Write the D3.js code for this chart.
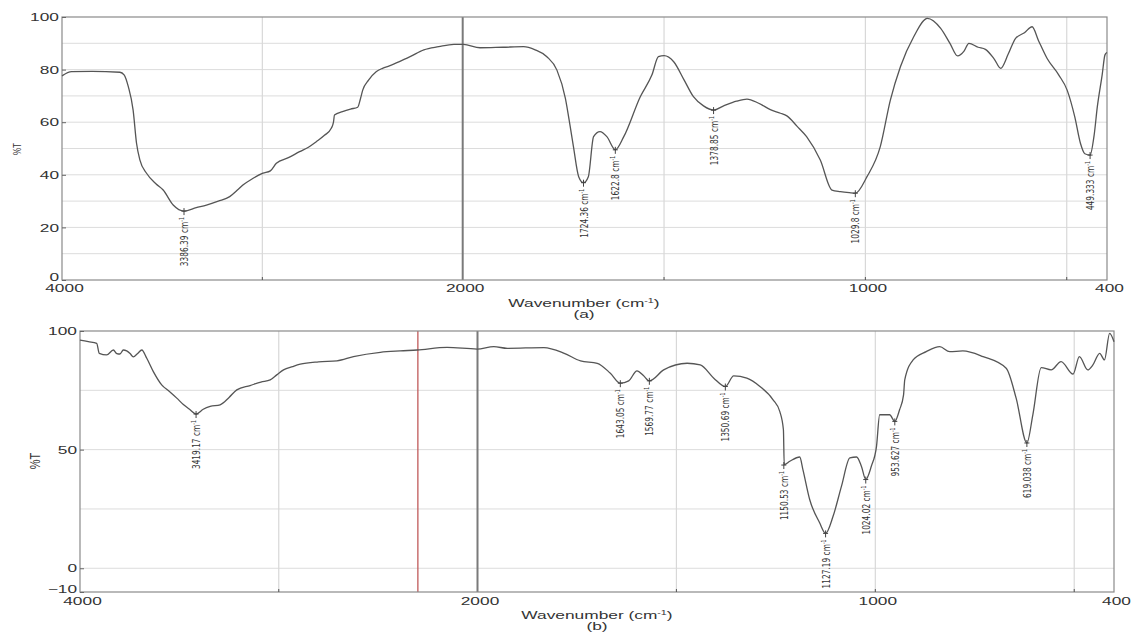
<!DOCTYPE html>
<html>
<head>
<meta charset="utf-8">
<script src="https://cdn.jsdelivr.net/npm/d3@7"></script>
<style>
  body { margin: 0; background: #fff; }
  svg { display: block; }
</style>
</head>
<body>
<svg id="chart" width="1133" height="637"></svg>
<script>
// spectrum (a): wavenumber (cm-1) and %T
const wnA = [4000, 3952, 3850, 3711, 3690, 3669, 3645, 3628, 3611, 3578, 3530, 3495, 3445, 3391, 3330, 3279, 3220, 3163, 3120, 3097, 3050, 2997, 2960, 2930, 2870, 2814, 2770, 2731, 2690, 2656, 2645, 2640, 2600, 2560, 2524, 2510, 2499, 2470, 2432, 2400, 2366, 2316, 2260, 2194, 2120, 2044, 1998, 1957, 1900, 1849, 1820, 1791, 1766, 1745, 1733, 1725, 1712, 1700, 1688, 1675, 1659, 1642, 1621, 1600, 1559, 1530, 1514, 1500, 1476, 1450, 1427, 1402, 1377, 1352, 1320, 1294, 1265, 1236, 1211, 1195, 1170, 1146, 1112, 1083, 1062, 1040, 1025, 996, 963, 938, 913, 880, 846, 813, 790, 771, 755, 743, 720, 702, 680, 664, 645, 627, 605, 586, 570, 549, 520, 499, 480, 466, 455, 442, 432, 424, 412, 405, 400];
const tA = [77.6, 79.2, 79.3, 79.0, 78.0, 73.5, 64.6, 52, 45.6, 40.6, 36.5, 34.2, 28.5, 26.2, 27.5, 28.5, 30, 31.7, 34.5, 36.1, 38.5, 40.6, 41.5, 44.4, 46.5, 48.8, 50.5, 52.6, 55, 57.7, 60, 62.7, 64, 65, 65.7, 69, 72.2, 76, 79.2, 80.5, 81.4, 83.0, 85, 87.5, 88.7, 89.6, 89.6, 88.3, 88.5, 88.7, 87.5, 84.9, 79.8, 69.1, 58.3, 50.7, 39.3, 37.0, 39.3, 54.5, 56.4, 54.5, 49.5, 54.5, 69.7, 78, 84.9, 85.3, 83.0, 76, 69.7, 66.2, 64.6, 66.2, 68, 68.8, 67.2, 64.8, 63.4, 62.4, 58.5, 54.5, 45.6, 34.2, 33.6, 33.2, 33.0, 39.3, 50.7, 68.4, 81.1, 92.5, 99.5, 95.7, 90, 85.2, 87, 90.0, 88.5, 87.7, 84, 80.5, 86, 91.9, 94, 96.3, 91, 84.3, 78, 72.2, 62, 52, 48, 47.5, 55, 65.9, 78, 85.6, 86.5];

// spectrum (b)
const wnB = [4000, 3958, 3916, 3903, 3866, 3832, 3815, 3799, 3782, 3765, 3748, 3732, 3710, 3689, 3664, 3631, 3589, 3550, 3513, 3480, 3446, 3416, 3380, 3345, 3295, 3250, 3211, 3144, 3090, 3043, 3010, 2976, 2930, 2892, 2800, 2707, 2624, 2489, 2389, 2304, 2153, 2002, 1959, 1925, 1833, 1782, 1741, 1699, 1666, 1641, 1620, 1599, 1583, 1568, 1532, 1473, 1440, 1406, 1377, 1356, 1323, 1290, 1257, 1240, 1231, 1229, 1215, 1190, 1182, 1165, 1140, 1125, 1106, 1085, 1064, 1047, 1035, 1024, 1010, 997, 989, 964, 951, 939, 929, 926, 905, 872, 838, 813, 780, 729, 671, 646, 619, 604, 583, 558, 533, 503, 487, 466, 453, 436, 424, 411, 400];
const tB = [96.2, 95.5, 94.8, 90.6, 89.9, 92.0, 90.5, 90.3, 92, 91.6, 90.5, 89.1, 90.5, 92.0, 88.5, 82.9, 77.3, 74.5, 71.7, 69, 66.8, 65.0, 67, 68.2, 68.9, 72, 75.2, 77.0, 78.5, 79.4, 81.5, 83.6, 85, 86.0, 87, 87.4, 89.2, 91.0, 91.6, 92.0, 93.1, 92.4, 93.4, 92.7, 93.0, 90.6, 87.4, 86.4, 82.2, 78.0, 79.0, 83.2, 81.2, 79.0, 83.6, 86.4, 85.7, 80.1, 76.6, 81.1, 80.1, 76.6, 71.0, 66, 58.4, 43.7, 45.1, 46.9, 41.6, 29.0, 19.2, 14.7, 22.0, 34.6, 46.5, 46.9, 43.0, 37.4, 43.0, 51.4, 64.7, 64.7, 61.9, 66.8, 73.1, 79.4, 87.8, 91.3, 93.4, 91.3, 91.6, 89.2, 84.3, 71.7, 52.8, 64.7, 84.6, 83.6, 87.1, 81.8, 89.2, 83.6, 85.7, 90.6, 87.8, 99.0, 95.5];

// labelled peaks: where the marker sits, its %T, and the printed value
const peakWnA = [3391, 1700, 1621, 1377, 1025, 442];
const peakTA = [26.2, 37.0, 49.5, 64.6, 33.0, 47.5];
const peakTextA = ["3386.39", "1724.36", "1622.8", "1378.85", "1029.8", "449.333"];

const peakWnB = [3416, 1641, 1568, 1377, 1230, 1125, 1024, 951, 619];
const peakTB = [65.0, 78.0, 79.0, 76.6, 43.5, 14.7, 37.4, 61.9, 52.8];
const peakTextB = ["3419.17", "1643.05", "1569.77", "1350.69", "1150.53", "1127.19", "1024.02", "953.627", "619.038"];

const xTickLabels = [4000, 2000, 1000, 400];
const xMinorTicks = [3000, 1500, 1000, 500];
const xGrid = [3000, 1500, 1000, 500];
const yTicksA = [0, 20, 40, 60, 80, 100];
const yGridA = [10, 20, 30, 40, 50, 60, 70, 80, 90];
const yTicksB = [-10, 0, 50, 100];
const yGridB = [0, 25, 50, 75];
const redLineWn = 2300;

const svg = d3.select("#chart");
const lineColor = "#555";
const textFont = "'Liberation Sans', Arial, sans-serif";
const peakFont = "'Liberation Sans Narrow', 'DejaVu Sans Condensed', 'Liberation Sans', sans-serif";
const stretch = 1.65; // the source picture is widened, text looks wide

function panel(opt) {
  const g = svg.append("g");
  // FTIR style axis: scale doubles below 2000 cm-1
  const x = d3.scaleLinear().domain([4000, 2000, 400]).range(opt.xRange);
  const y = d3.scaleLinear().domain(opt.yDomain).range(opt.yRange);
  const [x0, , x1] = opt.xRange;
  const [yb, yt] = opt.yRange;

  g.selectAll("line.hgrid")
    .data(opt.yGrid)
    .join("line")
    .attr("x1", x0).attr("x2", x1)
    .attr("y1", d => y(d)).attr("y2", d => y(d))
    .attr("stroke", "#dcdcdc").attr("stroke-width", 1);

  g.selectAll("line.vgrid")
    .data(xGrid)
    .join("line")
    .attr("x1", d => x(d)).attr("x2", d => x(d))
    .attr("y1", yt).attr("y2", yb)
    .attr("stroke", "#d8d8d8").attr("stroke-width", 1.2);

  if (opt.red) {
    g.append("line")
      .attr("x1", x(redLineWn)).attr("x2", x(redLineWn))
      .attr("y1", yt).attr("y2", yb)
      .attr("stroke", "#c05a5a").attr("stroke-width", 1.3);
  }

  // the heavy line at the scale change
  g.append("line")
    .attr("x1", x(2000)).attr("x2", x(2000))
    .attr("y1", yt).attr("y2", yb)
    .attr("stroke", "#7a7a7a").attr("stroke-width", 2);

  g.append("rect")
    .attr("x", x0).attr("y", yt)
    .attr("width", x1 - x0).attr("height", yb - yt)
    .attr("fill", "none").attr("stroke", "#8a8a8a").attr("stroke-width", 1.2);

  // axes
  const yAxis = g.append("g")
    .attr("transform", `translate(${x0},0)`)
    .call(d3.axisLeft(y).tickValues(opt.yTicks).tickSize(-4).tickFormat(d3.format("d")));
  yAxis.select(".domain").remove();
  yAxis.selectAll(".tick line").attr("stroke", "#666");
  yAxis.selectAll("text")
    .attr("x", -3 / stretch)
    .attr("dy", d => d === opt.yDomain[0] ? "0.05em" : "0.35em")
    .attr("transform", `scale(${stretch},1)`)
    .attr("font-family", textFont).attr("font-size", 10.5).attr("fill", "#333");

  const xAxis = g.append("g")
    .attr("transform", `translate(0,${yb})`)
    .call(d3.axisBottom(x).tickValues(xTickLabels).tickSize(0).tickPadding(opt.xPad).tickFormat(d3.format("d")));
  xAxis.select(".domain").remove();
  xAxis.selectAll("text")
    .attr("transform", `scale(${stretch},1)`)
    .attr("x", opt.xLabelDx / stretch)
    .attr("font-family", textFont).attr("font-size", 10.5).attr("fill", "#333");

  g.selectAll("line.minor")
    .data(xMinorTicks)
    .join("line")
    .attr("x1", d => x(d)).attr("x2", d => x(d))
    .attr("y1", yb).attr("y2", yb - 3)
    .attr("stroke", "#555");

  // spectrum
  const line = d3.line().x(d => x(d[0])).y(d => y(d[1])).curve(d3.curveMonotoneX);
  g.append("path")
    .datum(d3.zip(opt.wn, opt.t))
    .attr("d", line)
    .attr("fill", "none").attr("stroke", lineColor).attr("stroke-width", 1.3);

  // peak markers + rotated labels
  const peaks = g.selectAll("g.peak")
    .data(d3.zip(opt.peakWn, opt.peakT, opt.peakText))
    .join("g")
    .attr("transform", d => `translate(${x(d[0])},${y(d[1])})`);
  peaks.append("line").attr("x1", 0).attr("x2", 0).attr("y1", -3).attr("y2", 4)
    .attr("stroke", "#444").attr("stroke-width", 1);
  peaks.append("line").attr("x1", -2.5).attr("x2", 2.5).attr("y1", 0).attr("y2", 0)
    .attr("stroke", "#444").attr("stroke-width", 1);
  const pt = peaks.append("text")
    .attr("transform", "translate(4,6) rotate(-90) scale(0.75,1)")
    .attr("text-anchor", "end")
    .attr("font-family", peakFont).attr("font-size", 11).attr("fill", "#333");
  pt.append("tspan").text(d => d[2] + " cm");
  pt.append("tspan").attr("font-size", 7).attr("dy", -4).text("-1");

  // axis titles
  const title = g.append("text")
    .attr("transform", `translate(${opt.titleX},${opt.titleY}) scale(${stretch},1)`)
    .attr("text-anchor", "middle")
    .attr("font-family", textFont).attr("font-size", 10.5).attr("fill", "#333");
  title.append("tspan").text("Wavenumber (cm");
  title.append("tspan").attr("font-size", 6.5).attr("dy", -4).text("-1");
  title.append("tspan").attr("dy", 4).text(")");

  g.append("text")
    .attr("transform", `translate(${opt.titleX},${opt.titleY + 11}) scale(${stretch},1)`)
    .attr("text-anchor", "middle")
    .attr("font-family", textFont).attr("font-size", 10.5).attr("fill", "#333")
    .text(opt.tag);

  g.append("text")
    .attr("transform", `translate(${opt.yLabelX},${opt.yLabelY}) rotate(-90) scale(1,1.4)`)
    .attr("text-anchor", "middle")
    .attr("font-family", textFont).attr("font-size", opt.yLabelSize).attr("fill", "#333")
    .text("%T");
}

panel({
  xRange: [62, 462.7, 1107], yDomain: [0, 100], yRange: [280, 17],
  yTicks: yTicksA, yGrid: yGridA, red: false, xPad: 5,
  wn: wnA, t: tA, peakWn: peakWnA, peakT: peakTA, peakText: peakTextA,
  titleX: 584, titleY: 307, tag: "(a)", xLabelDx: 2,
  yLabelX: 21, yLabelY: 149, yLabelSize: 8
});

panel({
  xRange: [80, 477.5, 1114], yDomain: [-10, 100], yRange: [592, 331],
  yTicks: yTicksB, yGrid: yGridB, red: true, xPad: 6,
  wn: wnB, t: tB, peakWn: peakWnB, peakT: peakTB, peakText: peakTextB,
  titleX: 597, titleY: 619, tag: "(b)", xLabelDx: 2,
  yLabelX: 40, yLabelY: 461, yLabelSize: 11
});
</script>
</body>
</html>
